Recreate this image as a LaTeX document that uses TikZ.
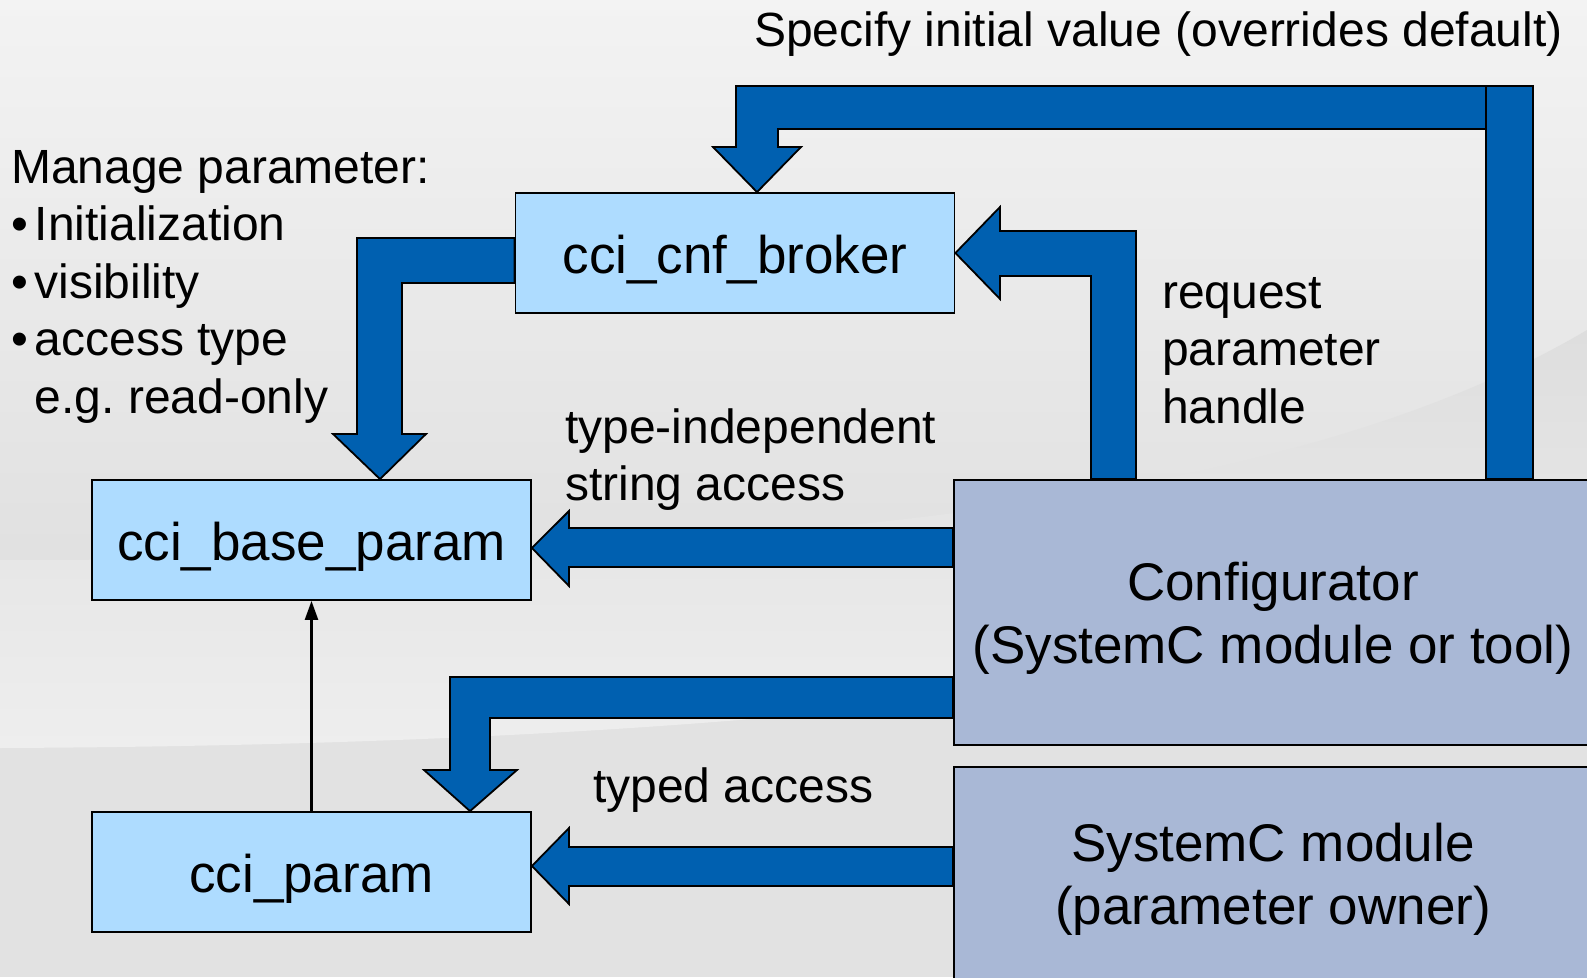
\documentclass[tikz,border=0pt]{standalone}
\usepackage{fontspec}
\setmainfont{Liberation Sans}
\usetikzlibrary{arrows.meta}

\definecolor{arrowblue}{RGB}{0,96,176}
\definecolor{classblue}{RGB}{174,220,255}
\definecolor{modblue}{RGB}{169,184,214}
\definecolor{bgtop}{RGB}{243,243,243}
\definecolor{bgmid}{RGB}{222,222,222}
\definecolor{bglow}{RGB}{226,226,226}
\definecolor{bglight}{RGB}{238,238,238}

\tikzset{
  cls/.style={draw=black, line width=1.8pt, fill=classblue, minimum width=439pt,
    minimum height=120pt, inner sep=0pt, text height=40pt, text depth=0pt,
    font=\fontsize{53}{62}\selectfont},
  mod/.style={draw=black, line width=1.8pt, fill=modblue, inner sep=0pt,
    align=center, font=\fontsize{53}{63}\selectfont},
  fat/.style={draw=black, line width=1.8pt, fill=arrowblue, line join=miter},
  lbl/.style={inner sep=0pt, align=left, font=\fontsize{48}{57.5}\selectfont},
}

\begin{document}
\begin{tikzpicture}[x=1pt,y=-1pt]
    \useasboundingbox (0,0) rectangle (1587,977);

    % background with the light swoosh
    \shade[top color=bgtop, bottom color=bgmid] (0,0) rectangle (1587,640);
    \fill[bglow] (0,640) rectangle (1587,977);
    \shade[top color=bgmid, middle color=bgmid, bottom color=bglight]
      (0,560) .. controls (800,560) and (1300,500) .. (1587,330)
      -- (1587,540) .. controls (1300,690) and (700,745) .. (0,748) -- cycle;

    % classes
    \node[cls] (broker) at (735,253) {cci\_cnf\_broker};
    \node[cls] (base) at (311.5,540) {cci\_base\_param};
    \node[cls] (param) at (311.5,872) {cci\_param};

    % modules
    \node[mod, minimum width=638pt, minimum height=265pt] (config) at (1273,612.5)
      {\rule{0pt}{50pt}Configurator\\(SystemC module or tool)};
    \node[mod, minimum width=638pt, minimum height=218pt] (owner) at (1273,876)
      {\rule{0pt}{44pt}SystemC module\\(parameter owner)};

    % initial value: config -> broker
    \draw[fat] (1533,86) -- (736,86) -- (736,147) -- (713,147)
      -- (757,0 |- broker.north) -- (801,147) -- (778,147) -- (778,129)
      -- (1533,129) -- cycle;
    \draw[fat] (1486,86) rectangle (1533,0 |- config.north);

    % broker -> base
    \draw[fat] (broker.west |- 0,238) -- (357,238) -- (357,434) -- (333,434)
      -- (380,0 |- base.north) -- (426,434) -- (402,434) -- (402,283)
      -- (broker.west |- 0,283) -- cycle;

    % request handle: config -> broker
    \draw[fat] (1091,0 |- config.north) -- (1091,276) -- (1000,276) -- (1000,299)
      -- (broker.east) -- (1000,207) -- (1000,231) -- (1136,231)
      -- (1136,0 |- config.north) -- cycle;

    % string access: config -> base
    \draw[fat] (config.west |- 0,528) -- (569,528) -- (569,511)
      -- (base.east |- 0,548) -- (569,586) -- (569,567)
      -- (config.west |- 0,567) -- cycle;

    % config -> param
    \draw[fat] (config.west |- 0,677) -- (450,677) -- (450,770) -- (424,770)
      -- (470,0 |- param.north) -- (517,770) -- (490,770) -- (490,718)
      -- (config.west |- 0,718) -- cycle;

    % typed access: owner -> param
    \draw[fat] (owner.west |- 0,847) -- (569,847) -- (569,828)
      -- (param.east |- 0,866) -- (569,904) -- (569,886)
      -- (owner.west |- 0,886) -- cycle;

    % inheritance
    \draw[-{Triangle[length=19pt,width=13pt]}, line width=2.4pt] (param.north) -- (base.south);

    % labels (base = last line)
    \node[lbl, anchor=base west] (initval) at (754,46) {Specify initial value (overrides default)};
    \node[lbl, anchor=base west] (manage) at (11,413)
      {Manage parameter:\\
       \makebox[23.5pt][l]{•}Initialization\\
       \makebox[23.5pt][l]{•}visibility\\
       \makebox[23.5pt][l]{•}access type\\
       \hspace*{23.5pt}e.g.\ read-only};
    \node[lbl, anchor=base west] (request) at (1162,423) {request\\parameter\\handle};
    \node[lbl, anchor=base west] (stracc) at (565,500.5) {type-independent\\string access};
    \node[lbl, anchor=base west] (typacc) at (593,802) {typed access};
\end{tikzpicture}
\end{document}
